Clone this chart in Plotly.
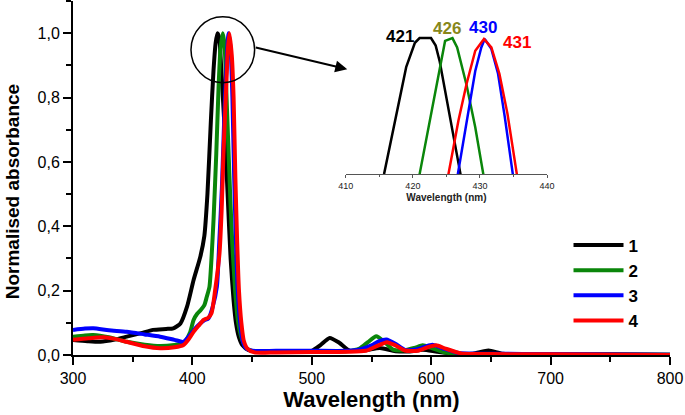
"""Normalised UV-vis absorbance of compounds 1-4, with a zoom on the Soret band"""
import plotly.graph_objects as go

# main spectra (wavelength in nm, normalised absorbance)
WL_1 = [300, 312, 323, 335, 345, 357, 367, 378, 384, 390, 395.5, 401, 406.6, 410, 412.6, 415.5,
        417.7, 419.5, 421, 422.5, 424, 427, 429.5, 432, 434.5, 436.5, 439, 442, 447, 455, 470,
        490, 500, 507, 515, 523, 532, 545, 557, 570, 582, 593, 605, 620, 635, 648, 660, 700,
        750, 800]
ABS_1 = [0.047, 0.043, 0.041, 0.048, 0.057, 0.068, 0.078, 0.081, 0.083, 0.098, 0.15, 0.233,
         0.305, 0.37, 0.50, 0.73, 0.885, 0.97, 1.0, 0.985, 0.90, 0.70, 0.50, 0.30, 0.17, 0.10,
         0.055, 0.03, 0.015, 0.011, 0.010, 0.011, 0.013, 0.03, 0.053, 0.038, 0.013, 0.015,
         0.022, 0.012, 0.011, 0.016, 0.010, 0.004, 0.004, 0.014, 0.004, 0.003, 0.002, 0.001]

WL_2 = [300, 310, 317, 330, 345, 360, 373, 385, 392.5, 398, 401, 404, 407, 410, 412, 414.3,
        416, 417.7, 420, 421.9, 423.5, 425.5, 427, 428.3, 430, 431.6, 433.5, 435.8, 438, 441.4,
        445, 450, 470, 500, 530, 540, 547, 554, 561, 568, 578, 586, 593, 600, 610, 620, 650,
        700, 800]
ABS_2 = [0.057, 0.061, 0.062, 0.055, 0.041, 0.032, 0.028, 0.031, 0.036, 0.07, 0.109, 0.128,
         0.14, 0.155, 0.18, 0.212, 0.30, 0.42, 0.626, 0.83, 0.95, 1.0, 0.96, 0.83, 0.66, 0.50,
         0.34, 0.20, 0.11, 0.05, 0.022, 0.012, 0.010, 0.011, 0.012, 0.02, 0.04, 0.058, 0.04,
         0.017, 0.015, 0.022, 0.03, 0.022, 0.009, 0.004, 0.003, 0.002, 0.001]

WL_3 = [300, 310, 317, 330, 345, 360, 373, 385, 392.5, 398, 403, 406.5, 410, 413.5, 417,
        420.5, 422.5, 424.7, 426.6, 428.3, 429.5, 430.3, 432, 433.5, 435, 436.5, 438, 440, 442,
        445, 450, 470, 500, 530, 540, 550, 556, 562.5, 570, 578, 588, 595, 601, 610, 623, 650,
        700, 800]
ABS_3 = [0.078, 0.082, 0.083, 0.077, 0.072, 0.064, 0.057, 0.047, 0.041, 0.062, 0.085, 0.098,
         0.108, 0.114, 0.15, 0.212, 0.35, 0.52, 0.73, 0.88, 0.97, 1.0, 0.95, 0.80, 0.55, 0.35,
         0.20, 0.10, 0.045, 0.02, 0.013, 0.013, 0.013, 0.013, 0.017, 0.03, 0.042, 0.048, 0.035,
         0.016, 0.018, 0.026, 0.032, 0.02, 0.006, 0.004, 0.003, 0.001]

WL_4 = [300, 313, 325.6, 335, 345, 360, 373, 385, 392.5, 397, 401, 405, 409.4, 413, 416, 419,
        422.7, 424.5, 426, 428.3, 429.7, 431, 433, 434.5, 436, 437.5, 439, 441, 443, 446, 452,
        470, 500, 530, 545, 553, 563, 570, 578, 588, 597, 604, 612, 625, 650, 700, 800]
ABS_4 = [0.047, 0.052, 0.055, 0.05, 0.041, 0.027, 0.021, 0.024, 0.031, 0.05, 0.072, 0.09,
         0.109, 0.115, 0.13, 0.2, 0.316, 0.45, 0.626, 0.83, 0.95, 1.0, 0.93, 0.80, 0.55, 0.35,
         0.20, 0.10, 0.045, 0.02, 0.008, 0.008, 0.009, 0.010, 0.013, 0.025, 0.04, 0.03, 0.014,
         0.013, 0.024, 0.03, 0.02, 0.005, 0.003, 0.002, 0.0]

# inset: top of the Soret band
INSET_WL_1 = [415.7, 419.0, 420.3, 421.0, 422.7, 423.4, 424.0, 425.0, 427.1]
INSET_ABS_1 = [0.70, 0.928, 0.98, 0.99, 0.99, 0.974, 0.94, 0.86, 0.70]
INSET_WL_2 = [421.0, 424.8, 425.9, 426.6, 428.0, 429.3, 430.5]
INSET_ABS_2 = [0.70, 0.984, 0.99, 0.97, 0.89, 0.80, 0.70]
INSET_WL_3 = [426.7, 427.8, 429.3, 430.2, 430.7, 431.7, 432.7, 433.7, 434.9]
INSET_ABS_3 = [0.70, 0.793, 0.92, 0.97, 0.988, 0.967, 0.914, 0.822, 0.70]
INSET_WL_4 = [425.3, 426.8, 428.0, 429.3, 430.6, 431.7, 432.9, 434.1, 435.5]
INSET_ABS_4 = [0.70, 0.815, 0.892, 0.963, 0.988, 0.97, 0.914, 0.829, 0.70]

NAMES = ["1", "2", "3", "4"]
PEAKS = ["421", "426", "430", "431"]
COLORS = ["#000000", "#0a860a", "#0000ff", "#ff0000"]
PEAK_COLORS = ["#000000", "#87871a", "#0000ff", "#ff0000"]

FONT = "Arial, Liberation Sans, sans-serif"

main = [(WL_1, ABS_1), (WL_2, ABS_2), (WL_3, ABS_3), (WL_4, ABS_4)]
inset = [(INSET_WL_1, INSET_ABS_1), (INSET_WL_2, INSET_ABS_2),
         (INSET_WL_3, INSET_ABS_3), (INSET_WL_4, INSET_ABS_4)]

fig = go.Figure()
for (wl, ab), name, col in zip(main, NAMES, COLORS):
    fig.add_trace(go.Scatter(x=wl, y=ab, name=f"<b>{name}</b>", mode="lines",
                             line=dict(color=col, width=4, shape="spline", smoothing=0.6)))
for (wl, ab), col in zip(inset, COLORS):
    fig.add_trace(go.Scatter(x=wl, y=ab, mode="lines", showlegend=False,
                             line=dict(color=col, width=2.5), xaxis="x2", yaxis="y2"))

fig.update_layout(
    width=685, height=415,
    margin=dict(l=73, r=15, t=1, b=60, autoexpand=False),
    paper_bgcolor="white", plot_bgcolor="white",
    separators=",.",
    font=dict(family=FONT, color="black"),
    xaxis=dict(range=[300, 800], dtick=100, showgrid=False, zeroline=False, automargin=False,
               showline=True, linecolor="black", linewidth=2,
               ticks="outside", ticklen=8, tickwidth=2, tickcolor="black",
               minor=dict(ticks="outside", dtick=50, ticklen=5, tickwidth=2, tickcolor="black"),
               tickfont=dict(size=16),
               title=dict(text="<b>Wavelength (nm)</b>", font=dict(size=22), standoff=3)),
    yaxis=dict(range=[0, 1.1], dtick=0.2, tickformat=".1f", showgrid=False, zeroline=False,
               automargin=False, showline=True, linecolor="black", linewidth=2,
               ticks="outside", ticklen=8, tickwidth=2, tickcolor="black",
               minor=dict(ticks="outside", dtick=0.1, ticklen=5, tickwidth=2, tickcolor="black"),
               tickfont=dict(size=16)),
    xaxis2=dict(domain=[0.457, 0.794], anchor="y2", range=[410, 440], dtick=10,
                automargin=False, showgrid=False, zeroline=False, showline=True,
                linecolor="#555", linewidth=1,
                ticks="outside", ticklen=3, tickcolor="#555",
                minor=dict(ticks="outside", dtick=5, ticklen=2, tickcolor="#555"),
                tickfont=dict(size=9, color="#222"),
                title=dict(text="<b>Wavelength (nm)</b>", font=dict(size=10, color="#222"),
                           standoff=4)),
    yaxis2=dict(domain=[0.511, 0.935], anchor="x2", range=[0.7, 1.02], visible=False),
    legend=dict(x=0.83, y=0.36, xanchor="left", yanchor="top", itemwidth=50,
                font=dict(size=17), bgcolor="rgba(0,0,0,0)", tracegroupgap=0),
)

# y title placed by hand, a bit lower and further left than plotly puts it
fig.add_annotation(text="<b>Normalised absorbance</b>", textangle=-90, showarrow=False,
                   xref="paper", yref="paper", x=-0.102, y=0.46, xanchor="center",
                   yanchor="middle", font=dict(size=19))

# peak labels above the inset curves
label_pos = [(418.1, 0.993), (425.1, 1.01), (430.4, 1.012), (435.5, 0.98)]
for (lx, ly), txt, col in zip(label_pos, PEAKS, PEAK_COLORS):
    fig.add_annotation(x=lx, y=ly, xref="x2", yref="y2", text=f"<b>{txt}</b>",
                       showarrow=False, font=dict(size=17, color=col))

# circle round the peak and arrow pointing to the inset
fig.add_shape(type="circle", xref="x", yref="y", x0=398.8, x1=452.1, y0=0.846, y1=1.051,
              line=dict(color="black", width=1.5))
fig.add_annotation(x=529.7, y=0.888, xref="x", yref="y", ax=-93, ay=-22, text="",
                   showarrow=True, arrowhead=2, arrowsize=1.2, arrowwidth=2, arrowcolor="black")

# the page's default body margin would shift the whole figure by 8px
fig.write_html("out.html", config={"displayModeBar": False},
               post_script="document.body.style.margin = '0';")
